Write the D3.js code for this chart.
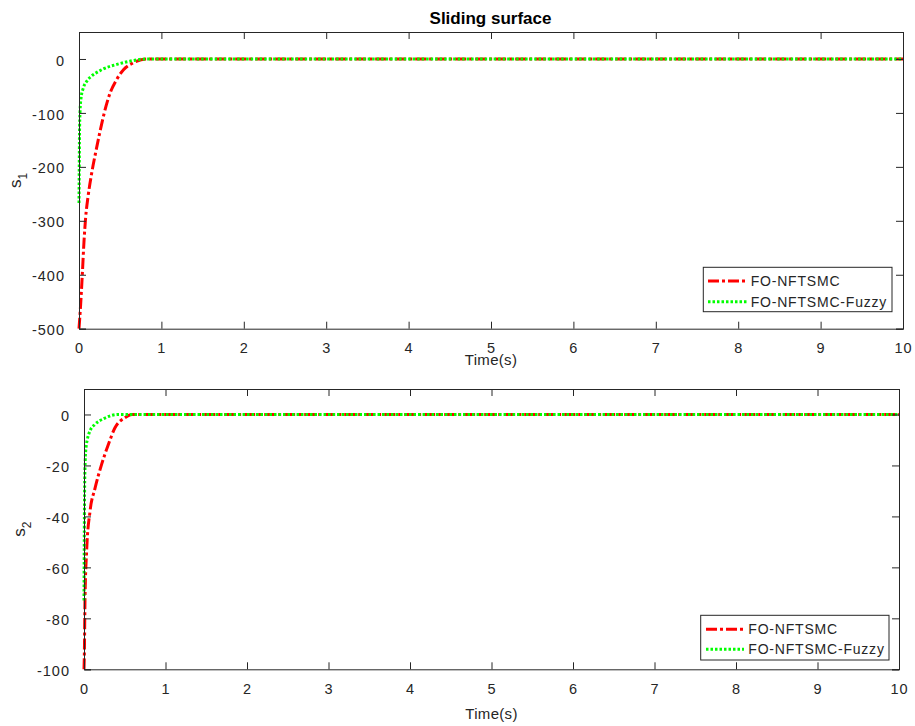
<!DOCTYPE html>
<html><head><meta charset="utf-8">
<script src="https://cdn.jsdelivr.net/npm/d3@7"></script>
<style>
html,body{margin:0;padding:0;background:#fff;}
svg{display:block;font-family:"Liberation Sans",Arial,sans-serif;}
</style></head>
<body><svg id="c" width="915" height="726"></svg>
<script>
// ---- data ----
const titleText = "Sliding surface";
const xLabel = "Time(s)";
const seriesNames = ["FO-NFTSMC", "FO-NFTSMC-Fuzzy"];
const xTicks = [0,1,2,3,4,5,6,7,8,9,10];
const y1Ticks = [-500,-400,-300,-200,-100,0];
const y2Ticks = [-100,-80,-60,-40,-20,0];

// s1, FO-NFTSMC
const s1RedT = [0,0.02,0.04,0.06,0.08,0.11,0.15,0.2,0.25,0.30,0.38,0.45,0.54,0.66,0.82,1,2,3,4,5,6,7,8,9,10];
const s1RedV = [-500,-455,-400,-340,-295,-255,-215,-175,-138,-104,-62,-40,-20,-7,0,0,0,0,0,0,0,0,0,0,0];
// s1, FO-NFTSMC-Fuzzy
const s1GrnT = [0,0.003,0.006,0.012,0.025,0.05,0.1,0.15,0.25,0.3,0.46,0.62,0.82,1,2,3,4,5,6,7,8,9,10];
const s1GrnV = [-267,-200,-140,-100,-72,-55,-40,-32,-22,-18,-10,-4,0,0,0,0,0,0,0,0,0,0,0];
// s2, FO-NFTSMC
const s2RedT = [0,0.004,0.012,0.033,0.074,0.135,0.217,0.30,0.38,0.50,0.59,1,2,3,4,5,6,7,8,9,10];
const s2RedV = [-100,-95,-73,-53,-38,-29,-19.5,-11.7,-5.2,-1.3,0,0,0,0,0,0,0,0,0,0,0];
// s2, FO-NFTSMC-Fuzzy
const s2GrnT = [0,0.004,0.008,0.015,0.025,0.04,0.08,0.13,0.25,0.42,1,2,3,4,5,6,7,8,9,10];
const s2GrnV = [-73,-45,-28,-18,-13,-10,-6,-4,-1.5,0,0,0,0,0,0,0,0,0,0,0];

const colors = ["#ff0000", "#00ff00"];
const dashes = ["11,3,3,3", "2.5,2"];

const svg = d3.select("#c");
const axisColor = "#262626";
const fontSize = 14.5;
const fmt = d => String(d);

function panel(cfg){
  const {left,right,top,bottom,yDomain,yTicks,series,legend,yLab,yLabX,xLabY,id} = cfg;
  const x = d3.scaleLinear().domain([0,10]).range([left,right]);
  const y = d3.scaleLinear().domain(yDomain).range([bottom,top]);
  const g = svg.append("g");
  g.append("rect").attr("x",left).attr("y",top).attr("width",right-left).attr("height",bottom-top).attr("fill","#fff");
  svg.append("clipPath").attr("id",id).append("rect")
    .attr("x",left-2).attr("y",top).attr("width",right-left+4).attr("height",bottom-top+2);
  const line = d3.line().x(d=>x(d[0])).y(d=>y(d[1])).curve(d3.curveMonotoneX);
  series.forEach((s,i)=>{
    const pts = s.t.map((t,k)=>[t,s.v[k]]);
    g.append("path").datum(pts).attr("d",line).attr("fill","none")
      .attr("stroke",colors[i]).attr("stroke-width",3)
      .attr("stroke-dasharray",dashes[i]).attr("clip-path",`url(#${id})`);
  });
  const tl = 7;
  const ax = g.append("g").attr("transform",`translate(0,${bottom})`)
    .call(d3.axisBottom(x).tickValues(xTicks).tickSize(-tl).tickPadding(14).tickFormat(fmt));
  const axT = g.append("g").attr("transform",`translate(0,${top})`)
    .call(d3.axisTop(x).tickValues(xTicks).tickSize(-tl).tickFormat(""));
  const ay = g.append("g").attr("transform",`translate(${left},0)`)
    .call(d3.axisLeft(y).tickValues(yTicks).tickSize(-tl).tickPadding(14).tickFormat(fmt));
  const ayR = g.append("g").attr("transform",`translate(${right},0)`)
    .call(d3.axisRight(y).tickValues(yTicks).tickSize(-tl).tickFormat(""));
  [ax,axT,ay,ayR].forEach(a=>{
    a.select(".domain").attr("stroke",axisColor).attr("stroke-width",1);
    a.selectAll(".tick line").attr("stroke",axisColor);
    a.selectAll("text").attr("fill",axisColor).attr("font-size",fontSize)
      .attr("font-family","Liberation Sans, Arial, sans-serif").attr("letter-spacing","1px");
  });
  ay.selectAll("text").attr("dy","0.42em");
  g.append("text").attr("x",(left+right)/2).attr("y",xLabY).attr("text-anchor","middle")
    .attr("fill",axisColor).attr("font-size",15).attr("letter-spacing","0.3px").text(xLabel);
  const yl = g.append("text").attr("transform",`translate(${yLabX},${(top+bottom)/2}) rotate(-90)`)
    .attr("text-anchor","middle").attr("fill",axisColor).attr("font-size",17);
  yl.append("tspan").text("s");
  yl.append("tspan").attr("font-size",12).attr("dy",6).text(yLab);
  const lg = g.append("g");
  lg.append("rect").attr("x",legend.x0).attr("y",legend.y0).attr("width",legend.x1-legend.x0)
    .attr("height",legend.y1-legend.y0).attr("fill","#fff").attr("stroke",axisColor).attr("stroke-width",1);
  seriesNames.forEach((n,i)=>{
    const cy = legend.rows[i];
    lg.append("line").attr("x1",legend.lx0).attr("x2",legend.lx1).attr("y1",cy).attr("y2",cy)
      .attr("stroke",colors[i]).attr("stroke-width",3).attr("stroke-dasharray",dashes[i]);
    lg.append("text").attr("x",legend.tx).attr("y",cy).attr("dy","0.36em").attr("fill",axisColor)
      .attr("font-size",14).attr("letter-spacing","0.8px").text(n);
  });
}

svg.append("text").attr("x",490.5).attr("y",24).attr("text-anchor","middle")
  .attr("font-weight","bold").attr("font-size",17).attr("fill","#000").text(titleText);

panel({id:"clip1",left:79,right:903,top:32,bottom:328.7,yDomain:[-500,50],yTicks:y1Ticks,
  series:[{t:s1RedT,v:s1RedV},{t:s1GrnT,v:s1GrnV}],yLab:"1",yLabX:21,xLabY:365,
  legend:{x0:703.3,x1:892,y0:267.3,y1:311.7,lx0:708,lx1:746.7,tx:750.7,rows:[281,301.7]}});
panel({id:"clip2",left:84,right:899,top:389,bottom:669.3,yDomain:[-100,10],yTicks:y2Ticks,
  series:[{t:s2RedT,v:s2RedV},{t:s2GrnT,v:s2GrnV}],yLab:"2",yLabX:25,xLabY:719,
  legend:{x0:700.7,x1:889,y0:615.3,y1:660,lx0:706,lx1:744,tx:748.3,rows:[629.3,649.3]}});
</script></body></html>
